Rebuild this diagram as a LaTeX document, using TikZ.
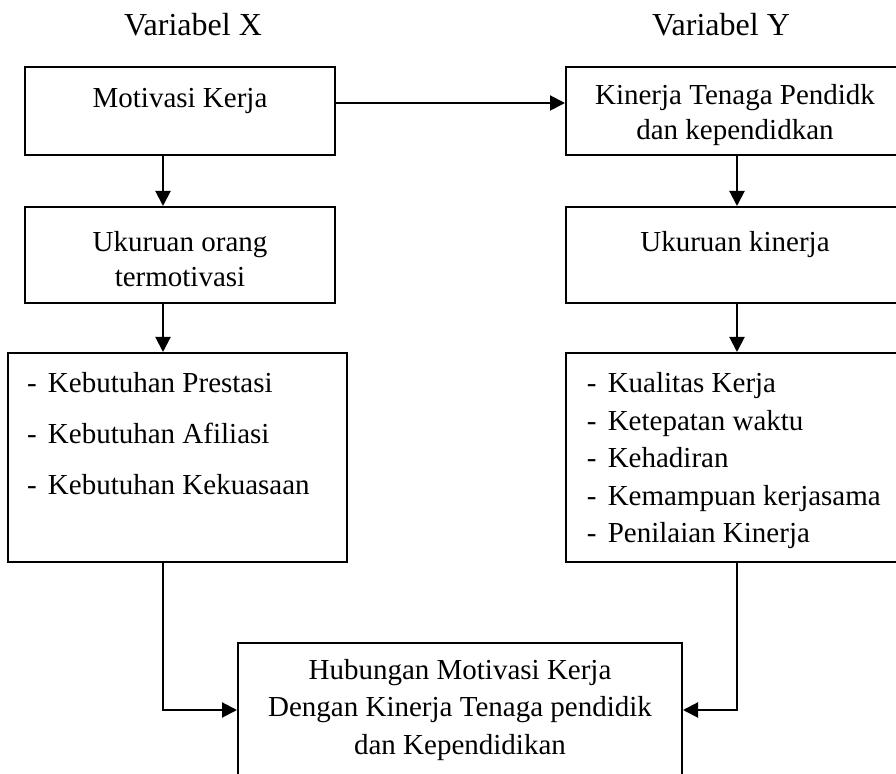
\documentclass[tikz,border=0pt]{standalone}
\usepackage{fontspec}
\setmainfont{Liberation Serif}
\usepackage{tikz}
\usetikzlibrary{shapes,arrows.meta}
\tikzset{
	block/.style    = {draw, line width=1pt, rectangle, align=center,
		minimum width = 155pt},
	listbox/.style  = {draw, line width=1pt, rectangle, inner sep=0pt},
	title/.style    = {font=\fontsize{16}{19}\selectfont},
	input/.style    = {coordinate}, % column / row of the connectors
}
\newcommand{\dashitem}{\makebox[10.5pt][l]{-}}

\begin{document}
\begin{tikzpicture}[x=0.5pt, y=-0.5pt, line width=1pt, >={Triangle[length=7.5pt,width=7.5pt]},
	font=\fontsize{14.5}{17.5}\selectfont]
	\useasboundingbox (0,0) rectangle (896,774);
	\clip (0,0) rectangle (896,774);

	\draw
	node at (193,25)[title] (vx) {Variabel X}
	node at (721,25)[title] (vy) {Variabel Y}
	node at (180,111)[block, minimum height=44pt] (mot) {\\[-3pt]Motivasi Kerja\\ ~}
	node at (735,111)[block, minimum width=169pt, minimum height=44pt] (kin) {\\[-3pt]Kinerja Tenaga Pendidk\\ dan kependidkan}
	node at (180,255)[block, minimum height=48pt] (ukx) {\\[-3pt]Ukuruan orang\\ termotivasi}
	node at (735,255)[block, minimum width=169pt, minimum height=48pt] (uky) {\\[-3pt]Ukuruan kinerja\\ ~};

	% indikator
	\node at (177.5,457.5)[listbox, inner xsep=9.5pt, inner ysep=9.9pt] (indx)
	{\parbox[c][84.7pt][t]{150.5pt}{\dashitem Kebutuhan Prestasi\\[8pt]
		\dashitem Kebutuhan Afiliasi\\[8pt]
		\dashitem Kebutuhan Kekuasaan}};
	\node at (735,457.5)[listbox, inner xsep=10.4pt, inner ysep=9.9pt] (indy)
	{\parbox[c][84.7pt][t]{148.2pt}{\dashitem Kualitas Kerja\\[1.25pt]
		\dashitem Ketepatan waktu\\[1.25pt]
		\dashitem Kehadiran\\[1.25pt]
		\dashitem Kemampuan kerjasama\\[1.25pt]
		\dashitem Penilaian Kinerja}};

	\node at (460,710)[block, minimum width=222pt, minimum height=67pt,
		font=\fontsize{14.5}{18.7}\selectfont] (hub)
	{Hubungan Motivasi Kerja\\ Dengan Kinerja Tenaga pendidik\\ dan Kependidikan};

	\node at (163,0)[input] (colx) {};
	\node at (737,0)[input] (coly) {};
	\node at (0,103)[input] (row) {};

	\draw[->](mot.east |- row) -- (kin.west |- row);
	\draw[->](mot.south -| colx) -- (ukx.north -| colx);
	\draw[->](ukx.south -| colx) -- (indx.north -| colx);
	\draw[->](kin.south -| coly) -- (uky.north -| coly);
	\draw[->](uky.south -| coly) -- (indy.north -| coly);
	\draw[->](indx.south -| colx) |- (hub.west);
	\draw[->](indy.south -| coly) |- (hub.east);

\end{tikzpicture}
\end{document}
